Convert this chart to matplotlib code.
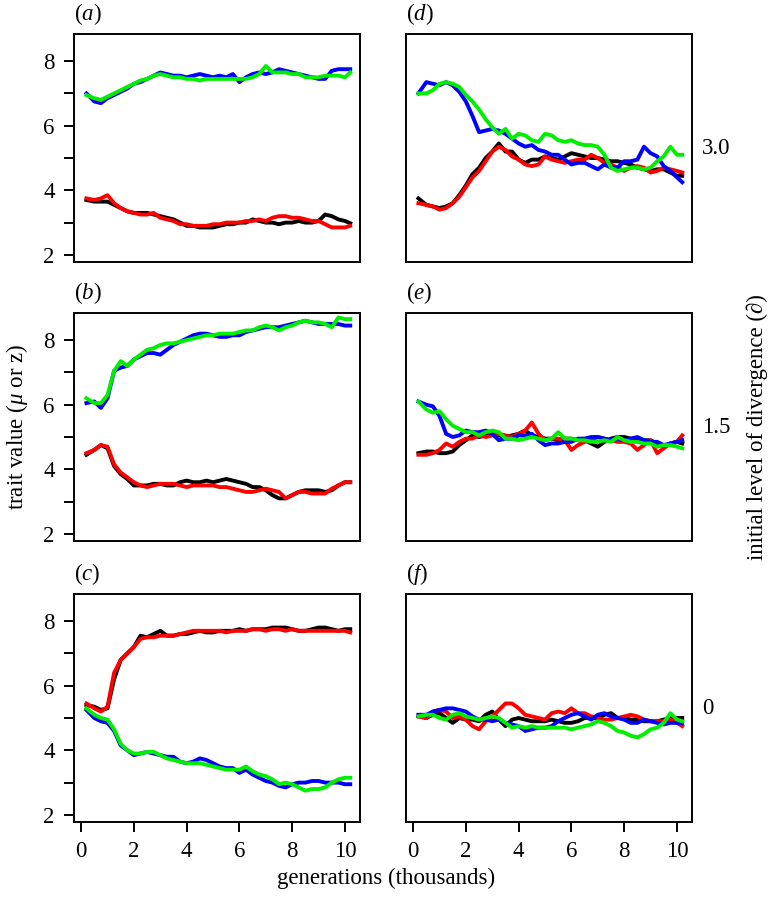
import matplotlib
matplotlib.use("Agg")
import matplotlib.pyplot as plt

plt.rcParams["font.family"] = ["Liberation Serif", "DejaVu Serif"]
plt.rcParams["mathtext.fontset"] = "custom"
plt.rcParams["mathtext.rm"] = "Liberation Serif"
plt.rcParams["mathtext.it"] = "Liberation Serif:italic"

GENS = [0.2, 0.5, 0.75, 1.0, 1.25, 1.5, 1.75, 2.0, 2.25, 2.5, 2.75, 3.0, 3.25, 3.5,
        3.75, 4.0, 4.25, 4.5, 4.75, 5.0, 5.25, 5.5, 5.75, 6.0, 6.25, 6.5, 6.75, 7.0,
        7.25, 7.5, 7.75, 8.0, 8.25, 8.5, 8.75, 9.0, 9.25, 9.5, 9.75, 10.0, 10.2]

# ── panel (a) ──────────────────────────────────────────────────────────────────
A_BLACK = [3.7, 3.65, 3.65, 3.65, 3.55, 3.45, 3.35, 3.3, 3.3, 3.3, 3.25, 3.2, 3.15, 3.1,
           3.0, 2.9, 2.9, 2.85, 2.85, 2.85, 2.9, 2.95, 2.95, 3.0, 3.0, 3.1, 3.05, 3.0,
           3.0, 2.95, 3.0, 3.0, 3.05, 3.0, 3.0, 3.05, 3.25, 3.2, 3.1, 3.05, 2.98]
A_RED = [3.75, 3.7, 3.75, 3.85, 3.6, 3.45, 3.35, 3.3, 3.25, 3.25, 3.3, 3.15, 3.1, 3.05,
         2.95, 2.95, 2.9, 2.9, 2.9, 2.95, 2.95, 3.0, 3.0, 3.0, 3.05, 3.05, 3.1, 3.05,
         3.15, 3.2, 3.2, 3.15, 3.15, 3.1, 3.05, 3.05, 2.95, 2.85, 2.85, 2.85, 2.9]
A_BLUE = [7.0, 6.75, 6.7, 6.85, 6.95, 7.05, 7.15, 7.3, 7.35, 7.45, 7.55, 7.65, 7.6, 7.55,
          7.55, 7.5, 7.55, 7.6, 7.55, 7.5, 7.55, 7.5, 7.6, 7.35, 7.5, 7.6, 7.65, 7.6,
          7.65, 7.75, 7.7, 7.65, 7.6, 7.55, 7.5, 7.45, 7.45, 7.7, 7.75, 7.75, 7.75]
A_GREEN = [6.95, 6.85, 6.8, 6.9, 7.0, 7.1, 7.2, 7.3, 7.4, 7.45, 7.55, 7.6, 7.55, 7.5,
           7.5, 7.45, 7.45, 7.4, 7.45, 7.45, 7.45, 7.45, 7.45, 7.45, 7.45, 7.5, 7.6, 7.85,
           7.65, 7.65, 7.65, 7.6, 7.6, 7.5, 7.5, 7.5, 7.55, 7.55, 7.55, 7.5, 7.65]

# ── panel (b) ──────────────────────────────────────────────────────────────────
B_BLACK = [4.45, 4.6, 4.75, 4.65, 4.1, 3.85, 3.7, 3.5, 3.5, 3.5, 3.55, 3.55, 3.5, 3.5,
           3.6, 3.65, 3.6, 3.6, 3.65, 3.6, 3.65, 3.7, 3.65, 3.6, 3.55, 3.45, 3.45, 3.35,
           3.2, 3.1, 3.1, 3.2, 3.3, 3.35, 3.35, 3.35, 3.3, 3.35, 3.5, 3.6, 3.6]
B_RED = [4.5, 4.6, 4.75, 4.7, 4.15, 3.9, 3.75, 3.6, 3.5, 3.45, 3.5, 3.55, 3.55, 3.55,
         3.5, 3.45, 3.5, 3.5, 3.5, 3.5, 3.45, 3.45, 3.4, 3.35, 3.3, 3.3, 3.35, 3.4,
         3.35, 3.3, 3.1, 3.2, 3.3, 3.3, 3.25, 3.25, 3.25, 3.4, 3.5, 3.6, 3.6]
B_BLUE = [6.05, 6.1, 5.9, 6.2, 7.05, 7.15, 7.2, 7.4, 7.5, 7.6, 7.6, 7.55, 7.7, 7.85,
          7.95, 8.05, 8.15, 8.2, 8.2, 8.15, 8.1, 8.1, 8.15, 8.15, 8.25, 8.3, 8.35, 8.4,
          8.4, 8.4, 8.45, 8.5, 8.55, 8.6, 8.55, 8.5, 8.5, 8.5, 8.5, 8.45, 8.45]
B_GREEN = [6.2, 6.05, 6.05, 6.3, 7.05, 7.35, 7.2, 7.4, 7.55, 7.7, 7.75, 7.85, 7.9, 7.9,
           7.95, 8.0, 8.05, 8.1, 8.15, 8.15, 8.2, 8.2, 8.2, 8.25, 8.3, 8.3, 8.4, 8.45,
           8.4, 8.3, 8.4, 8.45, 8.55, 8.6, 8.55, 8.55, 8.5, 8.4, 8.7, 8.65, 8.65]

# ── panel (c) ──────────────────────────────────────────────────────────────────
C_BLACK = [5.4, 5.35, 5.25, 5.3, 6.2, 6.8, 7.0, 7.2, 7.55, 7.5, 7.6, 7.7, 7.55, 7.55,
           7.6, 7.6, 7.65, 7.7, 7.65, 7.65, 7.7, 7.7, 7.7, 7.75, 7.7, 7.75, 7.75, 7.75,
           7.8, 7.8, 7.8, 7.75, 7.7, 7.7, 7.75, 7.8, 7.8, 7.75, 7.7, 7.75, 7.75]
C_RED = [5.45, 5.3, 5.2, 5.35, 6.4, 6.8, 7.0, 7.2, 7.45, 7.5, 7.5, 7.55, 7.55, 7.55,
         7.6, 7.65, 7.7, 7.7, 7.7, 7.7, 7.7, 7.65, 7.7, 7.7, 7.7, 7.75, 7.75, 7.7,
         7.75, 7.75, 7.7, 7.75, 7.7, 7.7, 7.7, 7.7, 7.7, 7.7, 7.7, 7.7, 7.65]
C_BLUE = [5.25, 5.0, 4.9, 4.85, 4.6, 4.15, 4.0, 3.85, 3.9, 3.95, 3.9, 3.85, 3.8, 3.8,
          3.65, 3.6, 3.65, 3.75, 3.7, 3.6, 3.5, 3.45, 3.45, 3.3, 3.4, 3.25, 3.15, 3.05,
          3.0, 2.9, 2.85, 2.95, 3.0, 3.0, 3.05, 3.05, 3.0, 3.0, 3.0, 2.95, 2.95]
C_GREEN = [5.3, 5.1, 5.0, 4.95, 4.65, 4.2, 4.0, 3.9, 3.9, 3.95, 3.95, 3.85, 3.75, 3.7,
           3.65, 3.6, 3.6, 3.6, 3.55, 3.5, 3.45, 3.4, 3.4, 3.4, 3.5, 3.35, 3.25, 3.2,
           3.1, 2.95, 3.0, 2.95, 2.85, 2.75, 2.8, 2.8, 2.85, 3.0, 3.1, 3.15, 3.15]

# ── panel (d) ──────────────────────────────────────────────────────────────────
D_BLACK = [3.75, 3.55, 3.5, 3.45, 3.5, 3.6, 3.85, 4.15, 4.5, 4.7, 5.0, 5.2, 5.45, 5.2,
           5.2, 4.95, 4.85, 4.95, 4.95, 5.05, 5.0, 4.95, 5.05, 5.15, 5.1, 5.05, 5.0, 5.0,
           4.95, 4.9, 4.9, 4.85, 4.8, 4.7, 4.65, 4.6, 4.65, 4.65, 4.55, 4.45, 4.45]
D_RED = [3.6, 3.55, 3.5, 3.4, 3.45, 3.6, 3.8, 4.1, 4.4, 4.6, 4.9, 5.2, 5.35, 5.25,
         5.05, 4.95, 4.8, 4.75, 4.8, 5.05, 4.95, 4.9, 4.85, 4.9, 4.95, 4.95, 5.1, 5.0,
         4.85, 4.8, 4.7, 4.6, 4.7, 4.75, 4.7, 4.55, 4.6, 4.7, 4.65, 4.6, 4.55]
D_BLUE = [7.0, 7.35, 7.3, 7.25, 7.35, 7.25, 7.05, 6.75, 6.3, 5.8, 5.85, 5.9, 5.85, 5.75,
          5.6, 5.45, 5.35, 5.4, 5.25, 5.2, 5.1, 5.1, 4.95, 4.8, 4.85, 4.85, 4.75, 4.65,
          4.8, 4.7, 4.7, 4.9, 4.9, 4.95, 5.35, 5.15, 5.05, 4.75, 4.6, 4.4, 4.25]
D_GREEN = [7.0, 7.0, 7.1, 7.3, 7.35, 7.3, 7.2, 6.95, 6.75, 6.5, 6.2, 5.95, 5.75, 5.9,
           5.6, 5.75, 5.7, 5.55, 5.5, 5.75, 5.7, 5.55, 5.5, 5.55, 5.45, 5.4, 5.4, 5.35,
           5.1, 4.7, 4.6, 4.65, 4.7, 4.7, 4.65, 4.7, 4.9, 5.05, 5.35, 5.1, 5.1]

# ── panel (e) ──────────────────────────────────────────────────────────────────
E_BLACK = [4.5, 4.55, 4.55, 4.5, 4.5, 4.55, 4.75, 4.9, 5.05, 5.0, 5.05, 5.1, 5.05, 5.0,
           5.05, 5.1, 5.2, 5.05, 5.0, 4.95, 4.95, 4.9, 4.95, 4.95, 4.9, 4.9, 4.8, 4.7,
           4.85, 4.95, 5.0, 5.0, 4.95, 4.95, 4.9, 4.9, 4.8, 4.7, 4.8, 4.85, 4.8]
E_RED = [4.45, 4.45, 4.5, 4.6, 4.8, 4.7, 4.85, 4.95, 4.95, 5.05, 5.0, 5.05, 5.1, 5.05,
         5.0, 5.1, 5.2, 5.45, 5.1, 4.9, 4.95, 4.95, 4.9, 4.6, 4.75, 4.85, 4.9, 5.0,
         4.95, 4.9, 4.85, 4.85, 4.8, 4.6, 4.75, 4.9, 4.5, 4.65, 4.8, 4.85, 5.05]
E_BLUE = [6.1, 6.0, 5.95, 5.65, 5.1, 5.0, 5.05, 5.2, 5.15, 5.15, 5.2, 5.1, 4.9, 4.95,
          4.95, 5.05, 5.05, 5.1, 4.9, 4.75, 4.8, 4.8, 4.85, 4.85, 4.95, 4.95, 5.0, 5.0,
          4.95, 4.9, 4.95, 4.9, 4.95, 5.0, 4.9, 4.85, 4.85, 4.75, 4.8, 4.85, 4.9]
E_GREEN = [6.1, 5.85, 5.75, 5.8, 5.55, 5.35, 5.25, 5.15, 5.15, 5.05, 5.15, 5.2, 5.15, 4.95,
           4.95, 4.9, 4.95, 5.0, 4.95, 4.9, 4.95, 5.15, 4.95, 4.95, 4.9, 4.9, 4.85, 4.85,
           4.9, 4.85, 5.0, 4.9, 4.85, 4.85, 4.8, 4.8, 4.7, 4.75, 4.75, 4.7, 4.65]

# ── panel (f) ──────────────────────────────────────────────────────────────────
F_BLACK = [5.05, 5.0, 5.1, 5.15, 5.0, 4.85, 5.0, 4.95, 4.95, 4.9, 5.1, 5.2, 4.95, 4.75,
           4.95, 5.0, 4.95, 4.9, 4.9, 4.9, 4.95, 4.9, 4.85, 4.85, 4.9, 5.0, 5.0, 5.0,
           5.1, 5.15, 5.0, 5.0, 4.95, 4.95, 4.9, 4.9, 4.9, 4.95, 5.0, 5.0, 5.0]
F_RED = [5.05, 5.0, 5.2, 5.25, 5.2, 5.0, 5.05, 4.95, 4.75, 4.65, 4.9, 5.05, 5.25, 5.45,
         5.45, 5.3, 5.1, 5.05, 5.0, 4.95, 5.15, 5.2, 5.15, 5.3, 5.15, 5.15, 5.05, 5.0,
         4.95, 4.95, 5.0, 5.05, 5.1, 5.05, 4.95, 4.9, 4.9, 4.9, 4.95, 4.85, 4.75]
F_BLUE = [5.1, 5.1, 5.2, 5.25, 5.3, 5.3, 5.25, 5.2, 5.05, 4.95, 4.95, 4.9, 4.95, 4.85,
          4.8, 4.75, 4.6, 4.65, 4.7, 4.7, 4.75, 4.9, 5.0, 5.1, 5.15, 5.05, 4.95, 5.1,
          5.15, 5.05, 5.0, 4.95, 4.85, 4.85, 4.95, 4.9, 4.85, 4.8, 4.85, 4.85, 4.85]
F_GREEN = [5.05, 5.1, 5.1, 5.0, 4.95, 5.1, 5.15, 5.05, 5.0, 4.95, 5.0, 5.05, 5.0, 4.85,
           4.7, 4.75, 4.7, 4.75, 4.7, 4.7, 4.7, 4.7, 4.7, 4.65, 4.7, 4.75, 4.8, 4.9,
           4.85, 4.75, 4.6, 4.55, 4.45, 4.4, 4.5, 4.65, 4.7, 4.85, 5.15, 4.95, 4.9]

PANEL_LABELS = ["a", "b", "c", "d", "e", "f"]
DIVERGENCE = ["3.0", "1.5", "0"]
YTICKS = [2, 3, 4, 5, 6, 7, 8]
YTICKLABELS = ["2", "", "4", "", "6", "", "8"]
XTICKS = [0, 2, 4, 6, 8, 10]

COLORS = ["black", "#ff0000", "#0000ff", "#00ee00"]
PANELS = [
    [A_BLACK, A_RED, A_BLUE, A_GREEN],
    [B_BLACK, B_RED, B_BLUE, B_GREEN],
    [C_BLACK, C_RED, C_BLUE, C_GREEN],
    [D_BLACK, D_RED, D_BLUE, D_GREEN],
    [E_BLACK, E_RED, E_BLUE, E_GREEN],
    [F_BLACK, F_RED, F_BLUE, F_GREEN],
]

W, H = 772, 897
FS = 16.5
fig = plt.figure(figsize=(W / 100, H / 100), dpi=100)

col_left = [74, 406]
col_w = 286
row_top = [34, 313, 594]
row_h = 228

for k, series in enumerate(PANELS):
    col, row = divmod(k, 3)
    ax = fig.add_axes([col_left[col] / W, 1 - (row_top[row] + row_h) / H,
                       col_w / W, row_h / H])
    for vals, c in zip(series, COLORS):
        ax.plot(GENS, vals, color=c, lw=2.8, solid_joinstyle="round")
    ax.set_xlim(-0.27, 10.57)
    ax.set_ylim(1.78, 8.84)
    for s in ax.spines.values():
        s.set_linewidth(1.4)
    ax.tick_params(direction="out", length=7.5, width=1.4, pad=6.5, labelsize=FS)
    ax.set_xticks(XTICKS)
    ax.set_yticks(YTICKS)
    if col == 0:
        ax.set_yticklabels(YTICKLABELS)
    else:
        ax.tick_params(axis="y", left=False, labelleft=False)
        ax.annotate(DIVERGENCE[row], xy=(1, 0.5), xycoords="axes fraction",
                    xytext=(10, 0), textcoords="offset pixels",
                    ha="left", va="center", fontsize=FS)
    if row < 2:
        ax.tick_params(axis="x", bottom=False, labelbottom=False)
    ax.annotate(f"$({PANEL_LABELS[k]})$", xy=(0, 1), xycoords="axes fraction",
                xytext=(0, 20), textcoords="offset pixels",
                ha="left", va="center", fontsize=FS)

fig.text(17 / W, 1 - 427 / H, r"trait value ($\mu$ or z)", rotation=90,
         ha="center", va="center", fontsize=FS)
fig.text(757 / W, 1 - 427 / H, "initial level of divergence (\u2202)", rotation=90,
         ha="center", va="center", fontsize=FS)
fig.text(386 / W, 1 - 878 / H, "generations (thousands)",
         ha="center", va="center", fontsize=FS)

fig.savefig("out.png", dpi=100)
